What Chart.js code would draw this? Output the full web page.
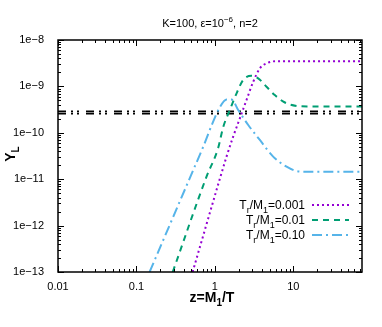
<!DOCTYPE html>
<html>
<head>
<meta charset="utf-8">
<script src="https://cdn.jsdelivr.net/npm/chart.js@4/dist/chart.umd.min.js"></script>
<style>
  html, body { margin: 0; padding: 0; background: #fff; }
  canvas { display: block; }
</style>
</head>
<body>
<canvas id="c" width="382" height="327"></canvas>
<script>
// values (log-log)
const X_TICKS = [0.01, 0.1, 1, 10];
const X_TICK_LABELS = ['0.01', '0.1', '1', '10'];
const Y_TICKS = [1e-13, 1e-12, 1e-11, 1e-10, 1e-9, 1e-8];
const Y_TICK_LABELS = ['1e\u221213', '1e\u221212', '1e\u221211', '1e\u221210', '1e\u22129', '1e\u22128'];

const z001 = [0.52, 1.16, 1.41, 1.71, 2.08, 2.53, 3.08, 3.74, 4.77, 6.1, 8, 75];
const yl001 = [1e-13, 1.04e-11, 3.1e-11, 8.3e-11, 2.05e-10, 5.1e-10, 1.26e-9, 2.45e-9, 3.24e-9, 3.5e-9, 3.5e-9, 3.5e-9];

const z01 = [0.29, 0.78, 1.1, 1.28, 1.55, 1.89, 2.29, 2.93, 3.56, 4.55, 5.8, 7.8, 11, 15, 75];
const yl01 = [1e-13, 1.12e-11, 4.7e-11, 1.35e-10, 3.1e-10, 7.1e-10, 1.37e-9, 1.69e-9, 1.49e-9, 9.8e-10, 6.5e-10, 4.5e-10, 3.8e-10, 3.7e-10, 3.7e-10];

const z10 = [0.147, 0.53, 0.71, 0.95, 1.16, 1.41, 1.63, 1.98, 2.66, 3.74, 5.53, 8.2, 11, 14.7, 75];
const yl10 = [1e-13, 1.58e-11, 5.0e-11, 1.74e-10, 3.6e-10, 5.2e-10, 5.2e-10, 3.1e-10, 1.47e-10, 7.0e-11, 3.06e-11, 1.86e-11, 1.5e-11, 1.45e-11, 1.45e-11];

// the two flat reference lines
const zFlat = [0.01, 75];
const ylFlatA = [2.9e-10, 2.9e-10];
const ylFlatB = [2.6e-10, 2.6e-10];

const LEGEND_VALUES = ['0.001', '0.01', '0.10'];

const pts = (xs, ys) => xs.map((x, i) => ({ x, y: ys[i] }));
const FONT = '"Liberation Sans", Arial, sans-serif';

const line = (data, color, dash, width = 2) => ({
  data, borderColor: color, borderDash: dash, borderWidth: width,
  pointRadius: 0, fill: false, cubicInterpolationMode: 'monotone',
});

// draws a string made of [text, 'sub'|'sup'|''] pieces
function richText(ctx, parts, x, y, size, weight, align) {
  const big = `${weight} ${size}px ${FONT}`;
  const small = `${weight} ${Math.round(size * 0.72)}px ${FONT}`;
  let w = 0;
  parts.forEach(([t, k]) => { ctx.font = k ? small : big; w += ctx.measureText(t).width; });
  let cx = align === 'right' ? x - w : align === 'center' ? x - w / 2 : x;
  ctx.textBaseline = 'alphabetic';
  ctx.textAlign = 'left';
  parts.forEach(([t, k]) => {
    ctx.font = k ? small : big;
    const dy = k === 'sub' ? size * 0.3 : k === 'sup' ? -size * 0.42 : 0;
    ctx.fillText(t, cx, y + dy);
    cx += ctx.measureText(t).width;
  });
}

const decor = {
  id: 'decor',
  afterDraw(chart) {
    const { ctx, chartArea: a, scales: { x, y } } = chart;
    ctx.save();
    ctx.strokeStyle = '#000';
    ctx.lineWidth = 1;
    // inward ticks on all four sides, gnuplot style
    const logTicks = (lo, hi) => {
      const out = [];
      for (let e = Math.floor(Math.log10(lo)); e <= Math.ceil(Math.log10(hi)); e++)
        for (let m = 1; m < 10; m++) {
          const v = m * Math.pow(10, e);
          if (v >= lo * 0.999 && v <= hi * 1.001) out.push([v, m === 1]);
        }
      return out;
    };
    ctx.beginPath();
    logTicks(x.min, x.max).forEach(([v, major]) => {
      const px = Math.round(x.getPixelForValue(v)) + 0.5, l = major ? 6 : 3;
      ctx.moveTo(px, a.bottom); ctx.lineTo(px, a.bottom - l);
      ctx.moveTo(px, a.top); ctx.lineTo(px, a.top + l);
    });
    logTicks(y.min, y.max).forEach(([v, major]) => {
      const py = Math.round(y.getPixelForValue(v)) + 0.5, l = major ? 6 : 3;
      ctx.moveTo(a.left, py); ctx.lineTo(a.left + l, py);
      ctx.moveTo(a.right, py); ctx.lineTo(a.right - l, py);
    });
    ctx.stroke();
    ctx.lineWidth = 1.5;
    ctx.strokeRect(a.left, a.top, a.right - a.left, a.bottom - a.top);

    ctx.fillStyle = '#000';
    richText(ctx, [['K=100, \u03b5=10', ''], ['\u22126', 'sup'], [', n=2', '']], (a.left + a.right) / 2, 27, 11, 'normal', 'center');
    richText(ctx, [['z=M', ''], ['1', 'sub'], ['/T', '']], (a.left + a.right) / 2 + 2, 302, 14, 'bold', 'center');
    ctx.save();
    ctx.translate(15, 154);
    ctx.rotate(-Math.PI / 2);
    richText(ctx, [['Y', ''], ['L', 'sub']], 0, 0, 14, 'bold', 'center');
    ctx.restore();

    // legend, inside lower right
    const rows = [205, 220, 235];
    chart.data.datasets.slice(0, 3).forEach((ds, i) => {
      const ty = rows[i];
      richText(ctx, [['T', ''], ['r', 'sub'], ['/M', ''], ['1', 'sub'], ['=' + LEGEND_VALUES[i], '']], 305, ty + 4, 12, 'normal', 'right');
      ctx.beginPath();
      ctx.strokeStyle = ds.borderColor;
      ctx.lineWidth = ds.borderWidth;
      ctx.setLineDash(ds.borderDash);
      ctx.moveTo(312, ty); ctx.lineTo(349, ty);
      ctx.stroke();
    });
    ctx.restore();
  },
};

new Chart(document.getElementById('c'), {
  type: 'line',
  data: {
    datasets: [
      line(pts(z001, yl001), '#9400d3', [2, 3]),
      line(pts(z01, yl01), '#009e73', [6, 5]),
      line(pts(z10, yl10), '#56b4e9', [10, 4, 2, 4]),
      line(pts(zFlat, ylFlatA), '#000', [8, 5, 2, 4, 2, 7], 1.8),
      line(pts(zFlat, ylFlatB), '#000', [8, 5, 2, 4, 2, 7], 1.8),
    ],
  },
  plugins: [decor],
  options: {
    responsive: false,
    animation: false,
    events: [],
    layout: { padding: { left: 0, right: 20, top: 40, bottom: 0 } },
    plugins: { legend: { display: false }, tooltip: { enabled: false } },
    scales: {
      x: {
        type: 'logarithmic', min: 0.01, max: 75,
        afterBuildTicks: s => { s.ticks = X_TICKS.map(value => ({ value })); },
        afterFit: s => { s.height = 55; },
        grid: { display: false, drawTicks: false }, border: { display: false },
        ticks: {
          autoSkip: false, maxRotation: 0, padding: 8, color: '#000',
          font: { family: FONT, size: 11 },
          callback: (v, i) => X_TICK_LABELS[i],
        },
      },
      y: {
        type: 'logarithmic', min: 1e-13, max: 1e-8,
        afterBuildTicks: s => { s.ticks = Y_TICKS.map(value => ({ value })); },
        afterFit: s => { s.width = 58; },
        grid: { display: false }, border: { display: false },
        ticks: {
          autoSkip: false, padding: 6, color: '#000',
          font: { family: FONT, size: 11 },
          callback: (v, i) => Y_TICK_LABELS[i],
        },
      },
    },
  },
});
</script>
</body>
</html>
